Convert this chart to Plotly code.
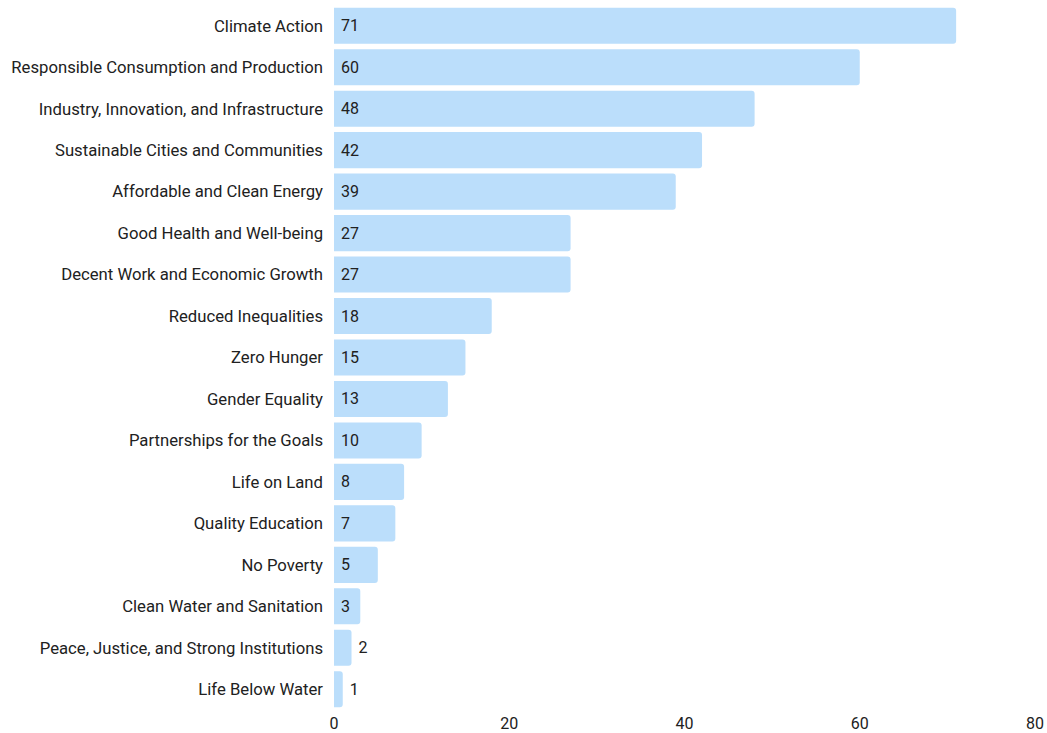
import plotly.graph_objects as go

categories = [
    "Climate Action", "Responsible Consumption and Production",
    "Industry, Innovation, and Infrastructure", "Sustainable Cities and Communities",
    "Affordable and Clean Energy", "Good Health and Well-being",
    "Decent Work and Economic Growth", "Reduced Inequalities", "Zero Hunger",
    "Gender Equality", "Partnerships for the Goals", "Life on Land",
    "Quality Education", "No Poverty", "Clean Water and Sanitation",
    "Peace, Justice, and Strong Institutions", "Life Below Water",
]
values = [71, 60, 48, 42, 39, 27, 27, 18, 15, 13, 10, 8, 7, 5, 3, 2, 1]
x_ticks = [0, 20, 40, 60, 80]

text_pos = ["inside" if v >= 3 else "outside" for v in values]
labels = ["\u00a0" + str(v) for v in values]

fig = go.Figure(go.Bar(
    x=values, y=categories, orientation="h",
    marker=dict(color="#BBDEFB", line=dict(width=0), cornerradius=3),
    text=labels, textposition=text_pos,
    insidetextanchor="start", constraintext="none", cliponaxis=False,
    textfont=dict(family="Roboto", size=16, color="#212121"),
    hoverinfo="skip",
))

fig.update_layout(
    width=1047, height=733,
    margin=dict(l=334, r=12, t=5, b=23, autoexpand=False),
    paper_bgcolor="white", plot_bgcolor="white",
    bargap=0.13,
    showlegend=False,
    font=dict(family="Roboto", size=16, color="#212121"),
    xaxis=dict(range=[0, 80], tickvals=x_ticks, showgrid=False, zeroline=False,
               showline=False, ticklabelstandoff=2, automargin=False,
               tickfont=dict(size=16, color="#212121")),
    yaxis=dict(categoryorder="array", categoryarray=categories[::-1],
               showgrid=False, zeroline=False, showline=False,
               ticklabelstandoff=10, automargin=False,
               tickfont=dict(size=16.7, color="#212121")),
)

fig.write_html("out.html")
